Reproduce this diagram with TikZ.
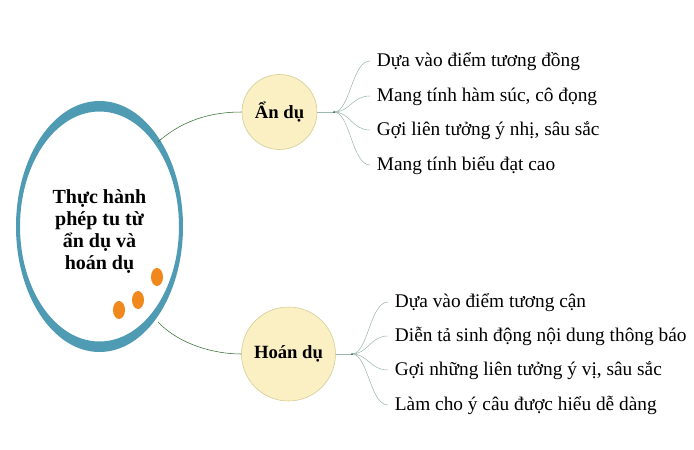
\documentclass[tikz,border=0pt]{standalone}
\usepackage{fontspec}
\setmainfont{Liberation Serif}
\usetikzlibrary{shapes.geometric}
\definecolor{ringblue}{HTML}{4E9BB3}
\definecolor{dotorange}{HTML}{F0881E}
\definecolor{bubfill}{HTML}{FBEFC4}
\definecolor{bubline}{HTML}{CFCB8E}
\definecolor{stemgreen}{HTML}{2F6F2F}
\definecolor{twiggrey}{HTML}{9DB8AE}
\begin{document}
\begin{tikzpicture}[x=0.75pt, y=-0.75pt,
		topic/.style={ellipse, inner sep=0pt, minimum width=125.25pt, minimum height=188.25pt, align=center, font=\fontsize{15}{16.5}\selectfont\bfseries},
		bubble/.style={circle, draw=bubline, fill=bubfill, inner sep=0pt, font=\fontsize{14}{16}\selectfont\bfseries},
		leaf/.style={anchor=west, inner xsep=5pt, inner ysep=0pt, text height=0.95em, text depth=0.17em, font=\fontsize{14.5}{17}\selectfont},
		stem/.style={draw=stemgreen, thin},
		twig/.style={draw=twiggrey, thin},
	]
		% centre topic
		\coordinate (ringc) at (99.5,226.5);
		\node (topic) [topic] at (99.5,232) {Thực hành\\phép tu từ\\ẩn dụ và\\hoán dụ};
		\fill[ringblue, even odd rule] (ringc) ellipse [x radius=83.5, y radius=125.5]
			(ringc) ellipse [x radius=79.5, y radius=115];
		\fill[dotorange] (157,277) ellipse [x radius=6, y radius=9];
		\fill[dotorange] (138,300) ellipse [x radius=6, y radius=9];
		\fill[dotorange] (119,310) ellipse [x radius=6, y radius=9];
		
		% the two branches
		\node (an) [bubble, minimum size=56.25pt] at (279.5,112) {Ẩn dụ};
		\node (hoan) [bubble, minimum size=70.5pt] at (288.5,354) {Hoán dụ};
		\draw[stem] (topic.57) .. controls (185,118) and (215,112) .. (an.west);
		\draw[stem] (topic.-57) .. controls (180,345) and (215,354) .. (hoan.west);
		
		\coordinate (ja) at (334,112);
		\coordinate (jh) at (352,354);
		\draw[twig] (an.east) -- (ja);
		\draw[twig] (hoan.east) -- (jh);
		
		% leaves
		\node (a1) [leaf] at (370,61) {Dựa vào điểm tương đồng};
		\node (a2) [leaf] at (370,96) {Mang tính hàm súc, cô đọng};
		\node (a3) [leaf] at (370,130) {Gợi liên tưởng ý nhị, sâu sắc};
		\node (a4) [leaf] at (370,165) {Mang tính biểu đạt cao};
		\node (h1) [leaf] at (388,302) {Dựa vào điểm tương cận};
		\node (h2) [leaf] at (388,336) {Diễn tả sinh động nội dung thông báo};
		\node (h3) [leaf] at (388,370) {Gợi những liên tưởng ý vị, sâu sắc};
		\node (h4) [leaf] at (388,405) {Làm cho ý câu được hiểu dễ dàng};
		
		\foreach \i in {1,...,4} {
			\draw[twig] (ja) .. controls +(16,0) and +(-18,0) .. (a\i.west);
			\draw[twig] (jh) .. controls +(16,0) and +(-18,0) .. (h\i.west);
		}
		\fill[stemgreen] (ja) circle [radius=1];
		\fill[stemgreen] (jh) circle [radius=1];
		
		\useasboundingbox (0,0) rectangle (694,450);
	\end{tikzpicture}
\end{document}
